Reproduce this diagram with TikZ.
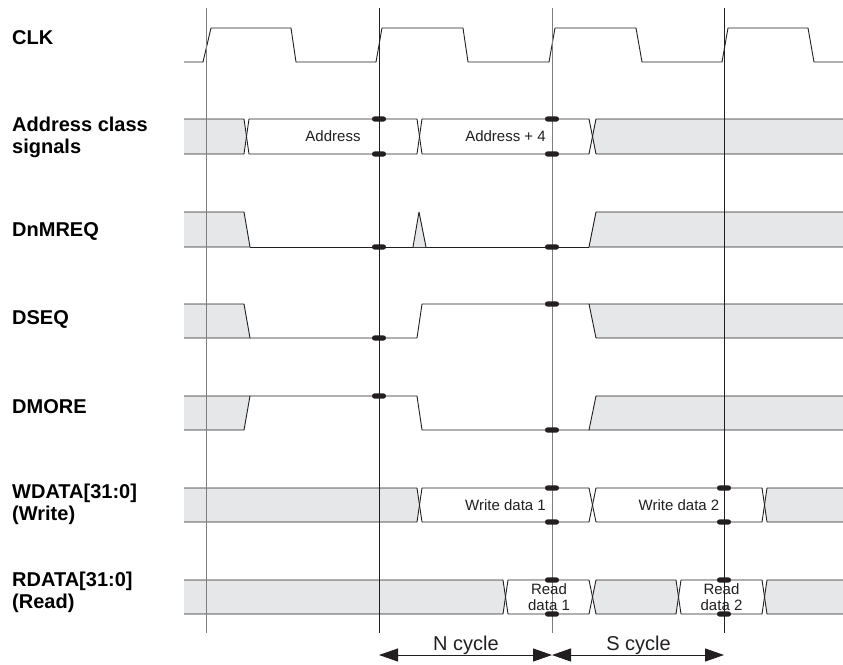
\documentclass[tikz,border=0pt]{standalone}
\usepackage{fontspec}
\setmainfont{Liberation Sans}
\usetikzlibrary{arrows.meta}
\definecolor{busgray}{RGB}{230,231,232}
\definecolor{wireblack}{RGB}{35,31,32}
\definecolor{gridgray}{RGB}{125,125,125}

\begin{document}
\begin{tikzpicture}[x=1pt, y=-1pt,
    wire/.style={draw=wireblack, line width=0.9pt, line join=round},
    undef/.style={wire, fill=busgray},
    valid/.style={wire, fill=white},
    sig/.style={font=\bfseries\fontsize{20}{22}\selectfont, anchor=west, align=left, inner sep=0pt},
    val/.style={font=\fontsize{15}{16.5}\selectfont, align=center, inner sep=0pt, text=wireblack},
    cyc/.style={font=\fontsize{20}{22}\selectfont, anchor=base, inner sep=0pt, text=wireblack},
    span/.style={draw=wireblack, line width=1pt, {Triangle[length=19pt,width=13pt]}-{Triangle[length=19pt,width=13pt]}}]
    \useasboundingbox (0,0) rectangle (843,664);

    % Signal names
    \node[sig] (clk) at (12,38) {CLK};
    \node[sig] (addr) at (12,137) {Address class\\signals};
    \node[sig] (mreq) at (12,231) {DnMREQ};
    \node[sig] (seq) at (12,319) {DSEQ};
    \node[sig] (more) at (12,407) {DMORE};
    \node[sig] (wdata) at (12,504) {WDATA[31:0]\\(Write)};
    \node[sig] (rdata) at (12,592) {RDATA[31:0]\\(Read)};

    % CLK
    \draw[wire] (184,62) -- (203,62) -- (211,28) -- (291,28) -- (296,62) -- (376,62) -- (382,28)
        -- (463,28) -- (468,62) -- (549,62) -- (555,28) -- (636,28) -- (642,62) -- (722,62)
        -- (728,28) -- (808,28) -- (814,62) -- (843,62);

    % Address class signals
    \filldraw[undef] (184,119) -- (244,119) -- (246.5,136.5) -- (244,154) -- (184,154);
    \filldraw[valid] (246.5,136.5) -- (249,119) -- (417,119) -- (419.5,136.5) -- (417,154) -- (249,154) -- cycle;
    \filldraw[valid] (419.5,136.5) -- (422,119) -- (589,119) -- (592.5,136.5) -- (589,154) -- (422,154) -- cycle;
    \filldraw[undef] (843,119) -- (596,119) -- (592.5,136.5) -- (596,154) -- (843,154);
    \node[val] (a0) at (333,136.5) {Address};
    \node[val] (a4) at (505.5,136.5) {Address + 4};

    % DnMREQ
    \filldraw[undef] (184,212) -- (244,212) -- (250,247) -- (184,247);
    \draw[wire] (250,247) -- (589,247);
    \filldraw[undef] (413,247) -- (419,212) -- (426,247);
    \filldraw[undef] (843,247) -- (589,247) -- (596,212) -- (843,212);

    % DSEQ
    \filldraw[undef] (184,338) -- (250,338) -- (244,304) -- (184,304);
    \draw[wire] (250,338) -- (417,338) -- (422,304) -- (589,304);
    \filldraw[undef] (843,338) -- (596,338) -- (589,304) -- (843,304);

    % DMORE
    \filldraw[undef] (184,396) -- (250,396) -- (244,430) -- (184,430);
    \draw[wire] (250,396) -- (417,396) -- (422,430) -- (589,430);
    \filldraw[undef] (843,430) -- (589,430) -- (596,396) -- (843,396);

    % WDATA
    \filldraw[undef] (184,488) -- (417,488) -- (419.5,505) -- (417,522) -- (184,522);
    \filldraw[valid] (419.5,505) -- (422,488) -- (589,488) -- (592.5,505) -- (589,522) -- (422,522) -- cycle;
    \filldraw[valid] (592.5,505) -- (596,488) -- (762,488) -- (764.5,505) -- (762,522) -- (596,522) -- cycle;
    \filldraw[undef] (843,488) -- (767,488) -- (764.5,505) -- (767,522) -- (843,522);
    \node[val] (w1) at (505.5,505) {Write data 1};
    \node[val] (w2) at (679,505) {Write data 2};

    % RDATA
    \filldraw[undef] (184,580) -- (503,580) -- (505.5,597) -- (503,614) -- (184,614);
    \filldraw[valid] (505.5,597) -- (508,580) -- (589,580) -- (592.5,597) -- (589,614) -- (508,614) -- cycle;
    \filldraw[undef] (592.5,597) -- (596,580) -- (676,580) -- (678.5,597) -- (676,614) -- (596,614) -- cycle;
    \filldraw[valid] (678.5,597) -- (681,580) -- (762,580) -- (764.5,597) -- (762,614) -- (681,614) -- cycle;
    \filldraw[undef] (843,580) -- (767,580) -- (764.5,597) -- (767,614) -- (843,614);

    % Clock edge lines
    \foreach \n/\x in {1/206,2/379,3/552,4/724} {
        \coordinate (g\n) at (\x,8);
        \coordinate (g\n b) at (\x,633);
        \coordinate (s\n) at (\x,655);
    }
    \draw[gridgray, line width=1pt] (g1) -- (g1b);
    \draw[wireblack, line width=0.9pt] (g2) -- (g2b);
    \draw[gridgray, line width=1pt] (g3) -- (g3b);
    \draw[wireblack, line width=0.9pt] (g4) -- (g4b);

    % Read data over the edge lines
    \node[val] (r1) at (549,597) {Read\\data 1};
    \node[val] (r2) at (721.5,597) {Read\\data 2};

    % Hold marks
    \foreach \x/\y in {379/119, 379/154, 552/119, 552/154, 379/247, 552/247, 379/338, 552/304,
        379/396, 552/430, 552/488, 552/522, 724/488, 724/522, 552/580, 552/614, 724/580, 724/614}
        \fill[wireblack, rounded corners=2.5pt] (\x-7,\y-2.6) rectangle (\x+7,\y+2.6);

    % Cycles
    \draw[span] (s2) -- (s3);
    \draw[span] (s3) -- (s4);
    \node[cyc] (ncyc) at (466,650) {N cycle};
    \node[cyc] (scyc) at (638.5,650) {S cycle};
\end{tikzpicture}
\end{document}
